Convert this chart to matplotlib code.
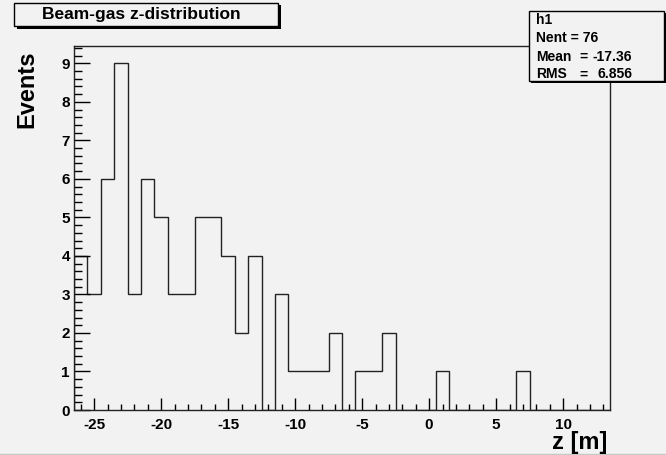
import matplotlib
matplotlib.use("Agg")
import matplotlib.pyplot as plt
from matplotlib.patches import Rectangle
from matplotlib.lines import Line2D
import numpy as np

# histogram data: 1 m bins from -26.5 to 13.5
bin_lo = -26.5
bin_hi = 13.5
counts = [4, 3, 6, 9, 3, 6, 5, 3, 3, 5,
          5, 4, 2, 4, 0, 3, 1, 1, 1, 2,
          0, 1, 1, 2, 0, 0, 0, 1, 0, 0,
          0, 0, 0, 1, 0, 0, 0, 0, 0, 0]
title_text = "Beam-gas z-distribution"
stats_name = "h1"
stats_rows = [("Nent = 76", None, None),
              ("Mean", "=", "-17.36"),
              ("RMS", "=", "6.856")]
x_label = "z [m]"
y_label = "Events"

W, H = 666, 455
bg = "#f2f2f2"
font = "Liberation Sans"


def fx(px):
    return px / W


def fy(py):
    # pixel measured from the top
    return 1 - py / H


plt.rcParams["font.family"] = [font, "DejaVu Sans"]
plt.rcParams["font.weight"] = "bold"
plt.rcParams["axes.unicode_minus"] = False

fig = plt.figure(figsize=(W / 100, H / 100), dpi=100, facecolor=bg)
ax = fig.add_axes([fx(74), fy(410), fx(610) - fx(74), fy(46) - fy(410)])
ax.set_facecolor(bg)

edges = np.arange(bin_lo, bin_hi + 0.5, 1.0)
ax.stairs(counts, edges, color="#222222", linewidth=1.0, baseline=0)

ax.set_xlim(bin_lo, bin_hi)
ax.set_ylim(0, max(counts) * 1.05)

#ROOT style ticks: inside, bottom and left only
ax.set_xticks(np.arange(-25, 11, 5))
ax.set_xticks(np.arange(-26, 14, 1), minor=True)
ax.set_yticks(np.arange(0, 10, 1))
ax.set_yticks(np.arange(0, 9.45, 0.2), minor=True)
ax.tick_params(axis="x", which="major", direction="in", length=8.5, width=1, pad=6, labelsize=11)
ax.tick_params(axis="x", which="minor", direction="in", length=4, width=1)
ax.tick_params(axis="y", which="major", direction="in", length=11.5, width=1, pad=3, labelsize=11)
ax.tick_params(axis="y", which="minor", direction="in", length=5.7, width=1)
for lab in ax.get_xticklabels() + ax.get_yticklabels():
    lab.set_fontweight("bold")
for sp in ax.spines.values():
    sp.set_linewidth(1.0)
    sp.set_color("#222222")

# axis titles
fig.text(fx(27), fy(50), y_label, rotation=90, ha="center", va="top",
         fontsize=17, fontweight="bold")
fig.text(fx(607), fy(449), x_label, ha="right", va="baseline",
         fontsize=17, fontweight="bold")

# title box with shadow
fig.patches.append(Rectangle((fx(17), fy(28.5)), fx(280.5) - fx(17), fy(5) - fy(28.5),
                             transform=fig.transFigure, facecolor="black", edgecolor="none", zorder=5))
fig.patches.append(Rectangle((fx(14), fy(26)), fx(278) - fx(14), fy(3) - fy(26),
                             transform=fig.transFigure, facecolor=bg, edgecolor="black",
                             linewidth=1.0, zorder=6))
fig.text(fx(141), fy(15), title_text, ha="center", va="center", fontsize=12.5,
         fontweight="bold", zorder=7)

# stats box with shadow
fig.patches.append(Rectangle((fx(531), fy(83)), fx(666) - fx(531), fy(13) - fy(83),
                             transform=fig.transFigure, facecolor="black", edgecolor="none", zorder=5))
fig.patches.append(Rectangle((fx(529), fy(81)), fx(664) - fx(529), fy(11) - fy(81),
                             transform=fig.transFigure, facecolor=bg, edgecolor="black",
                             linewidth=1.0, zorder=6))
fig.text(fx(536), fy(20), stats_name, ha="left", va="center", fontsize=10, fontweight="bold", zorder=7)
row_y = [38.5, 57, 74.5]
for (name, eq, val), yy in zip(stats_rows, row_y):
    fig.text(fx(536), fy(yy), name, ha="left", va="center", fontsize=10, fontweight="bold", zorder=7)
    if eq is not None:
        fig.text(fx(579), fy(yy), eq, ha="left", va="center", fontsize=10, fontweight="bold", zorder=7)
        fig.text(fx(632), fy(yy), val, ha="right", va="center", fontsize=10, fontweight="bold", zorder=7)

# faint canvas border at the bottom
fig.lines.append(Line2D([0, 1], [fy(454), fy(454)], transform=fig.transFigure,
                        color="#c8c8c8", linewidth=1.0))

fig.savefig("out.png", dpi=100, facecolor=bg)
